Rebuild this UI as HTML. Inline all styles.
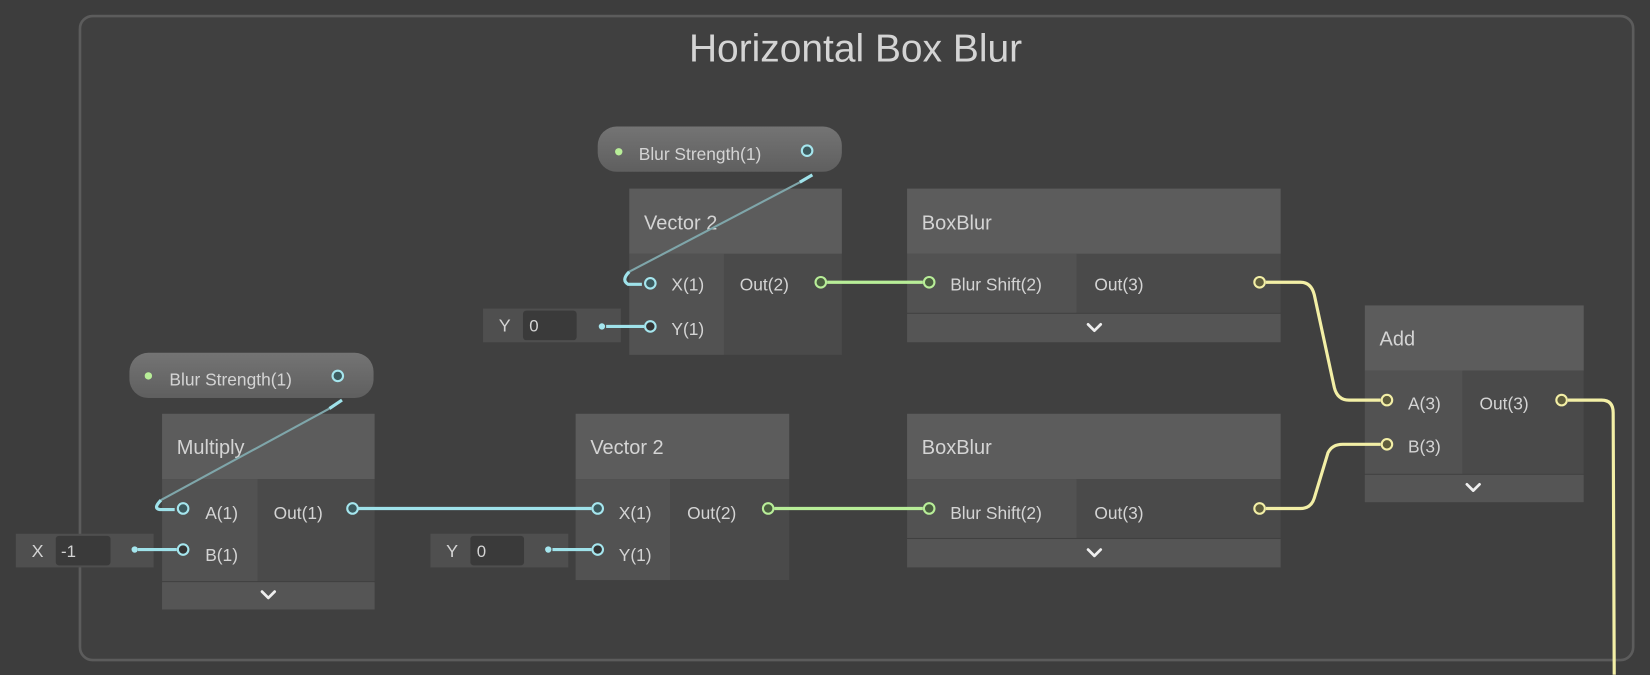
<!DOCTYPE html>
<html><head><meta charset="utf-8"><style>
html,body{margin:0;padding:0;background:#3d3d3d;width:1650px;height:675px;overflow:hidden}
svg{display:block}
text{font-family:"Liberation Sans",sans-serif;fill:#d4d4d4}
</style></head><body>
<svg width="1650" height="675" viewBox="0 0 1568 641" xmlns="http://www.w3.org/2000/svg">
<defs>
<linearGradient id="pill" x1="0" y1="0" x2="0" y2="1"><stop offset="0" stop-color="#747474"/><stop offset="1" stop-color="#5f5f5f"/></linearGradient>
</defs>
<rect width="1568" height="641" fill="#3d3d3d"/>
<rect x="76" y="15" width="1476" height="612" rx="12" fill="#404040" stroke="#5c5c5c" stroke-width="2.5"/>
<text x="813" y="58" font-size="37" text-anchor="middle" fill="#c4c4c4">Horizontal Box Blur</text>

<!-- Nodes -->
<g>
<!-- Vector2 top -->
<rect x="598" y="179" width="202" height="62" fill="#5c5c5c"/>
<rect x="598" y="241" width="90" height="96" fill="#525252"/>
<rect x="688" y="241" width="112" height="96" fill="#4a4a4a"/>
<text x="612" y="218" font-size="19">Vector 2</text>
<text x="638" y="276" font-size="16.5">X(1)</text>
<text x="638" y="318" font-size="16.5">Y(1)</text>
<text x="703" y="276" font-size="16.5">Out(2)</text>

<!-- BoxBlur top -->
<rect x="862" y="179" width="355" height="62" fill="#5c5c5c"/>
<rect x="862" y="241" width="161" height="56" fill="#525252"/>
<rect x="1023" y="241" width="194" height="56" fill="#4a4a4a"/>
<rect x="862" y="298" width="355" height="27" fill="#555555"/>
<text x="876" y="218" font-size="19">BoxBlur</text>
<text x="903" y="276" font-size="16.5">Blur Shift(2)</text>
<text x="1040" y="276" font-size="16.5">Out(3)</text>

<!-- Add -->
<rect x="1297" y="290" width="208" height="62" fill="#5c5c5c"/>
<rect x="1297" y="352" width="93" height="98" fill="#525252"/>
<rect x="1390" y="352" width="115" height="98" fill="#4a4a4a"/>
<rect x="1297" y="451" width="208" height="26" fill="#555555"/>
<text x="1311" y="328" font-size="19">Add</text>
<text x="1338" y="389" font-size="16.5">A(3)</text>
<text x="1338" y="430" font-size="16.5">B(3)</text>
<text x="1406" y="389" font-size="16.5">Out(3)</text>

<!-- Multiply -->
<rect x="154" y="393" width="202" height="62" fill="#5c5c5c"/>
<rect x="154" y="455" width="91" height="97" fill="#525252"/>
<rect x="245" y="455" width="111" height="97" fill="#4a4a4a"/>
<rect x="154" y="553" width="202" height="26" fill="#555555"/>
<text x="168" y="431" font-size="19">Multiply</text>
<text x="195" y="493" font-size="16.5">A(1)</text>
<text x="195" y="533" font-size="16.5">B(1)</text>
<text x="260" y="493" font-size="16.5">Out(1)</text>

<!-- Vector2 bottom -->
<rect x="547" y="393" width="203" height="62" fill="#5c5c5c"/>
<rect x="547" y="455" width="90" height="96" fill="#525252"/>
<rect x="637" y="455" width="113" height="96" fill="#4a4a4a"/>
<text x="561" y="431" font-size="19">Vector 2</text>
<text x="588" y="493" font-size="16.5">X(1)</text>
<text x="588" y="533" font-size="16.5">Y(1)</text>
<text x="653" y="493" font-size="16.5">Out(2)</text>

<!-- BoxBlur bottom -->
<rect x="862" y="393" width="355" height="62" fill="#5c5c5c"/>
<rect x="862" y="455" width="161" height="56" fill="#525252"/>
<rect x="1023" y="455" width="194" height="56" fill="#4a4a4a"/>
<rect x="862" y="512" width="355" height="27" fill="#555555"/>
<text x="876" y="431" font-size="19">BoxBlur</text>
<text x="903" y="493" font-size="16.5">Blur Shift(2)</text>
<text x="1040" y="493" font-size="16.5">Out(3)</text>
</g>

<!-- chevrons -->
<g fill="none" stroke="#eeeeee" stroke-width="2.6" stroke-linecap="round" stroke-linejoin="round">
<path d="M1034 308 l6 6 l6 -6"/>
<path d="M1034 522 l6 6 l6 -6"/>
<path d="M1394 460 l6 6 l6 -6"/>
<path d="M249 562 l6 6 l6 -6"/>
</g>

<!-- inline fields -->
<rect x="459" y="293" width="131" height="32" fill="#4f4f4f"/>
<rect x="497" y="295" width="51" height="28" rx="3" fill="#3a3a3a"/>
<text x="474" y="315" font-size="17">Y</text><text x="503" y="315" font-size="16">0</text>
<rect x="409" y="507" width="131" height="32" fill="#4f4f4f"/>
<rect x="447" y="509" width="51" height="28" rx="3" fill="#3a3a3a"/>
<text x="424" y="529" font-size="17">Y</text><text x="453" y="529" font-size="16">0</text>
<rect x="15" y="507" width="131" height="32" fill="#4f4f4f"/>
<rect x="53" y="509" width="52" height="28" rx="3" fill="#3a3a3a"/>
<text x="30" y="529" font-size="17">X</text><text x="58" y="529" font-size="16">-1</text>

<!-- pills -->
<rect x="568" y="120" width="232" height="43" rx="18" fill="url(#pill)"/>
<circle cx="588" cy="144" r="3.5" fill="#b8ee98"/>
<text x="607" y="152" font-size="16.5">Blur Strength(1)</text>
<rect x="123" y="335" width="232" height="43" rx="18" fill="url(#pill)"/>
<circle cx="141" cy="357" r="3.5" fill="#b8ee98"/>
<text x="161" y="366" font-size="16.5">Blur Strength(1)</text>

<!-- wires -->
<g fill="none" stroke-width="3">
<path d="M772 166 L760 173" stroke="#9fe2ea"/>
<path d="M760 173 L598 258" stroke="#7fa6aa" stroke-width="2"/>
<path d="M598 258 Q590 266 597 270 L610 270" stroke="#9fe2ea"/>
<path d="M325 380 L313 388" stroke="#9fe2ea"/>
<path d="M313 388 L153 475" stroke="#7fa6aa" stroke-width="2"/>
<path d="M153 475 Q145 483 152 484 L166 484" stroke="#9fe2ea"/>
<path d="M340 483 L562 483" stroke="#9fe2ea"/>
<path d="M576 310 L612 310" stroke="#9fe2ea"/>
<path d="M525 522 L562 522" stroke="#9fe2ea"/>
<path d="M131 522 L168 522" stroke="#9fe2ea"/>
<path d="M786 268 L877 268" stroke="#b8ee98"/>
<path d="M736 483 L877 483" stroke="#b8ee98"/>
<path d="M1203 268 L1236 268 Q1246 268 1249 280 L1268 368 Q1271 380 1282 380 L1312 380" stroke="#f3efa6"/>
<path d="M1203 483 L1236 483 Q1246 483 1249 473 L1262 430 Q1266 422 1276 422 L1312 422" stroke="#f3efa6"/>
<path d="M1490 380 L1522 380 Q1533 380 1533 392 L1534 641" stroke="#f3efa6"/>
</g>

<!-- ports -->
<g stroke-width="2">
<circle cx="767" cy="143" r="5" fill="#3c5a5e" stroke="#a5e6ee"/>
<circle cx="321" cy="357" r="5" fill="#3c5a5e" stroke="#a5e6ee"/>
<circle cx="618" cy="269" r="5" fill="#3c5a5e" stroke="#a5e6ee"/>
<circle cx="618" cy="310" r="5" fill="#333" stroke="#a5e6ee"/>
<circle cx="572" cy="310" r="3" fill="#a5e6ee" stroke="none"/>
<circle cx="780" cy="268" r="5" fill="#4a5e40" stroke="#b8ee98"/>
<circle cx="883" cy="268" r="5" fill="#4a5e40" stroke="#b8ee98"/>
<circle cx="1197" cy="268" r="5" fill="#5e5c3c" stroke="#f3efa6"/>
<circle cx="1318" cy="380" r="5" fill="#5e5c3c" stroke="#f3efa6"/>
<circle cx="1318" cy="422" r="5" fill="#5e5c3c" stroke="#f3efa6"/>
<circle cx="1484" cy="380" r="5" fill="#5e5c3c" stroke="#f3efa6"/>
<circle cx="174" cy="483" r="5" fill="#3c5a5e" stroke="#a5e6ee"/>
<circle cx="174" cy="522" r="5" fill="#333" stroke="#a5e6ee"/>
<circle cx="128" cy="522" r="3" fill="#a5e6ee" stroke="none"/>
<circle cx="335" cy="483" r="5" fill="#3c5a5e" stroke="#a5e6ee"/>
<circle cx="568" cy="483" r="5" fill="#3c5a5e" stroke="#a5e6ee"/>
<circle cx="568" cy="522" r="5" fill="#333" stroke="#a5e6ee"/>
<circle cx="521" cy="522" r="3" fill="#a5e6ee" stroke="none"/>
<circle cx="730" cy="483" r="5" fill="#4a5e40" stroke="#b8ee98"/>
<circle cx="883" cy="483" r="5" fill="#4a5e40" stroke="#b8ee98"/>
<circle cx="1197" cy="483" r="5" fill="#5e5c3c" stroke="#f3efa6"/>
</g>
</svg>
</body></html>
